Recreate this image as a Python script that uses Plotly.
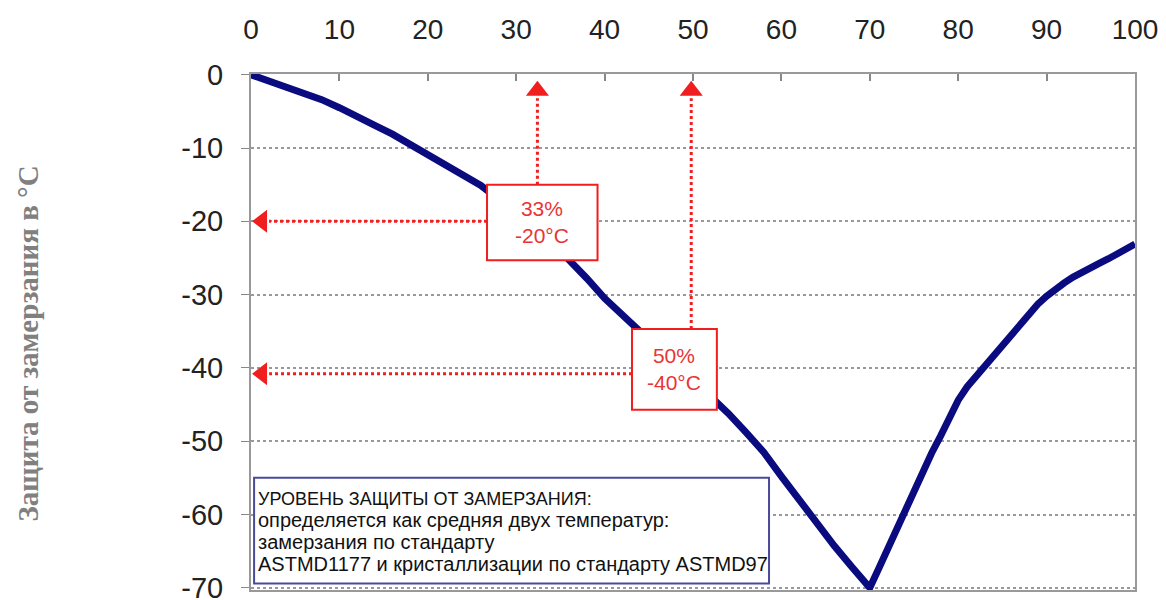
import plotly.graph_objects as go

# Curve data (x: % concentration, y: freeze protection °C)
conc = [0, 2, 4, 6, 8, 10, 12, 14, 16, 18, 20, 22, 24, 26, 28, 30, 32, 34, 36, 38, 40,
        42, 44, 46, 48, 50, 52, 54, 56, 58, 60, 62, 64, 66, 68, 70,
        71, 72, 73, 74, 75, 76, 77, 78, 79, 80, 81, 82, 83, 84, 85, 86, 87, 88, 89, 90,
        91, 92, 93, 94, 95, 96, 97, 98, 99, 100]
protect = [0, -0.8, -1.6, -2.5, -3.4, -4.5, -5.6, -6.9, -8.1, -9.5, -11.0, -12.4, -13.8,
           -15.1, -17.0, -18.8, -20.7, -22.8, -25.2, -27.8, -30.5,
           -32.8, -35.0, -37.0, -39.3, -41.5, -43.8, -46.2, -48.8, -51.5, -54.8, -58.0,
           -61.3, -64.3, -67.2, -70.0,
           -67.4, -64.7, -62.0, -59.2, -56.6, -54.0, -51.6, -49.3, -46.7, -44.4, -42.6,
           -41.2, -39.9, -38.4, -36.9, -35.5, -34.0, -32.6, -31.3, -30.2,
           -29.2, -28.4, -27.6, -26.9, -26.2, -25.7, -25.1, -24.5, -23.8, -23.1]

x_ticks = [0, 10, 20, 30, 40, 50, 60, 70, 80, 90, 100]
y_ticks = [0, -10, -20, -30, -40, -50, -60, -70]

# Marked points
mark_x = [32.4, 49.8]
mark_y = [-20, -40.8]
mark_labels = ["33%<br>-20°C", "50%<br>-40°C"]
# Label boxes: x0, x1, y0 (top), y1 (bottom) in data units
box_x0 = [26.7, 43.1]
box_x1 = [39.2, 52.7]
box_y0 = [-15.0, -34.7]
box_y1 = [-25.3, -45.7]

note_lines = ["УРОВЕНЬ ЗАЩИТЫ ОТ ЗАМЕРЗАНИЯ:",
              "определяется как средняя двух температур:",
              "замерзания по стандарту",
              "ASTMD1177 и кристаллизации по стандарту ASTMD97"]
y_title = "Защита от замерзания в °С"

# styles
note_line_y = [-57.9, -60.8, -63.8, -66.8]
note_font_sizes = [18, 20, 20, 20]

RED = "#f01e1e"
TXT_RED = "#e83535"
NAVY = "#0b0b80"

fig = go.Figure()

fig.add_trace(go.Scatter(x=conc, y=protect, mode="lines",
                         line=dict(color=NAVY, width=7), hoverinfo="skip",
                         showlegend=False))

arrow_y = -2.2
arrow_x = 1.25
for i in range(2):
    # vertical dotted line up to top axis
    fig.add_trace(go.Scatter(x=[mark_x[i], mark_x[i]], y=[box_y0[i], arrow_y - 1.0],
                             mode="lines", line=dict(color=RED, width=3, dash="dot"),
                             showlegend=False, hoverinfo="skip"))
    fig.add_trace(go.Scatter(x=[mark_x[i]], y=[arrow_y], mode="markers",
                             marker=dict(symbol="triangle-up", size=20, color=RED),
                             showlegend=False, hoverinfo="skip", cliponaxis=False))
    # horizontal dotted line to left axis
    fig.add_trace(go.Scatter(x=[box_x0[i], arrow_x + 0.8], y=[mark_y[i], mark_y[i]],
                             mode="lines", line=dict(color=RED, width=3, dash="dot"),
                             showlegend=False, hoverinfo="skip"))
    fig.add_trace(go.Scatter(x=[arrow_x], y=[mark_y[i]], mode="markers",
                             marker=dict(symbol="triangle-left", size=20, color=RED),
                             showlegend=False, hoverinfo="skip", cliponaxis=False))
    fig.add_shape(type="rect", x0=box_x0[i], x1=box_x1[i], y0=box_y0[i], y1=box_y1[i],
                  xref="x", yref="y", fillcolor="white",
                  line=dict(color=RED, width=2), layer="above")
    fig.add_annotation(x=(box_x0[i] + box_x1[i]) / 2, y=(box_y0[i] + box_y1[i]) / 2,
                       xref="x", yref="y", text=mark_labels[i], showarrow=False,
                       font=dict(family="Liberation Sans, Arial", size=21, color=TXT_RED),
                       align="center")

# Note box
fig.add_shape(type="rect", x0=0.35, x1=58.6, y0=-55.0, y1=-69.4, xref="x", yref="y",
              fillcolor="white", line=dict(color="#4a4a9a", width=2), layer="above")
for txt, ly, fs in zip(note_lines, note_line_y, note_font_sizes):
    fig.add_annotation(x=0, y=ly, xref="x", yref="y", text=txt, showarrow=False,
                       xanchor="left", yanchor="middle", align="left", xshift=5,
                       font=dict(family="Liberation Sans, Arial", size=fs, color="#111"))

# Y axis title
fig.add_annotation(x=-0.252, y=0.478, xref="paper", yref="paper", text=f"<b>{y_title}</b>",
                   showarrow=False, textangle=-90, xanchor="center", yanchor="middle",
                   font=dict(family="Liberation Serif, Times New Roman", size=29,
                             color="#808080"))

fig.update_xaxes(range=[0, 100], side="top", tickvals=x_ticks,
                 ticktext=[str(v) for v in x_ticks],
                 tickfont=dict(family="Liberation Sans, Arial", size=28, color="#222"),
                 ticks="inside", ticklen=7, tickcolor="#888", tickwidth=2,
                 showline=True, linecolor="#999", linewidth=2, mirror=True,
                 showgrid=False, zeroline=False, ticklabelstandoff=22, fixedrange=True,
                 ticklabeloverflow="allow", automargin=False)
fig.update_yaxes(range=[-70.3, 0.1], tickvals=y_ticks,
                 ticktext=[str(v) for v in y_ticks],
                 tickfont=dict(family="Liberation Sans, Arial", size=29, color="#222"),
                 ticks="outside", ticklen=8, tickcolor="#888", tickwidth=1,
                 showline=True, linecolor="#999", linewidth=2, mirror=True,
                 showgrid=True, gridcolor="#999", griddash="dot", gridwidth=1.5,
                 zeroline=False, ticklabelstandoff=12, fixedrange=True,
                 ticklabeloverflow="allow", automargin=False)

# the page body adds an 8px offset, so the figure is 8px smaller and margins shifted
fig.update_layout(width=1158, height=592, plot_bgcolor="white", paper_bgcolor="white",
                  margin=dict(l=243, r=31, t=66, b=10), showlegend=False)

fig.write_html("out.html")
